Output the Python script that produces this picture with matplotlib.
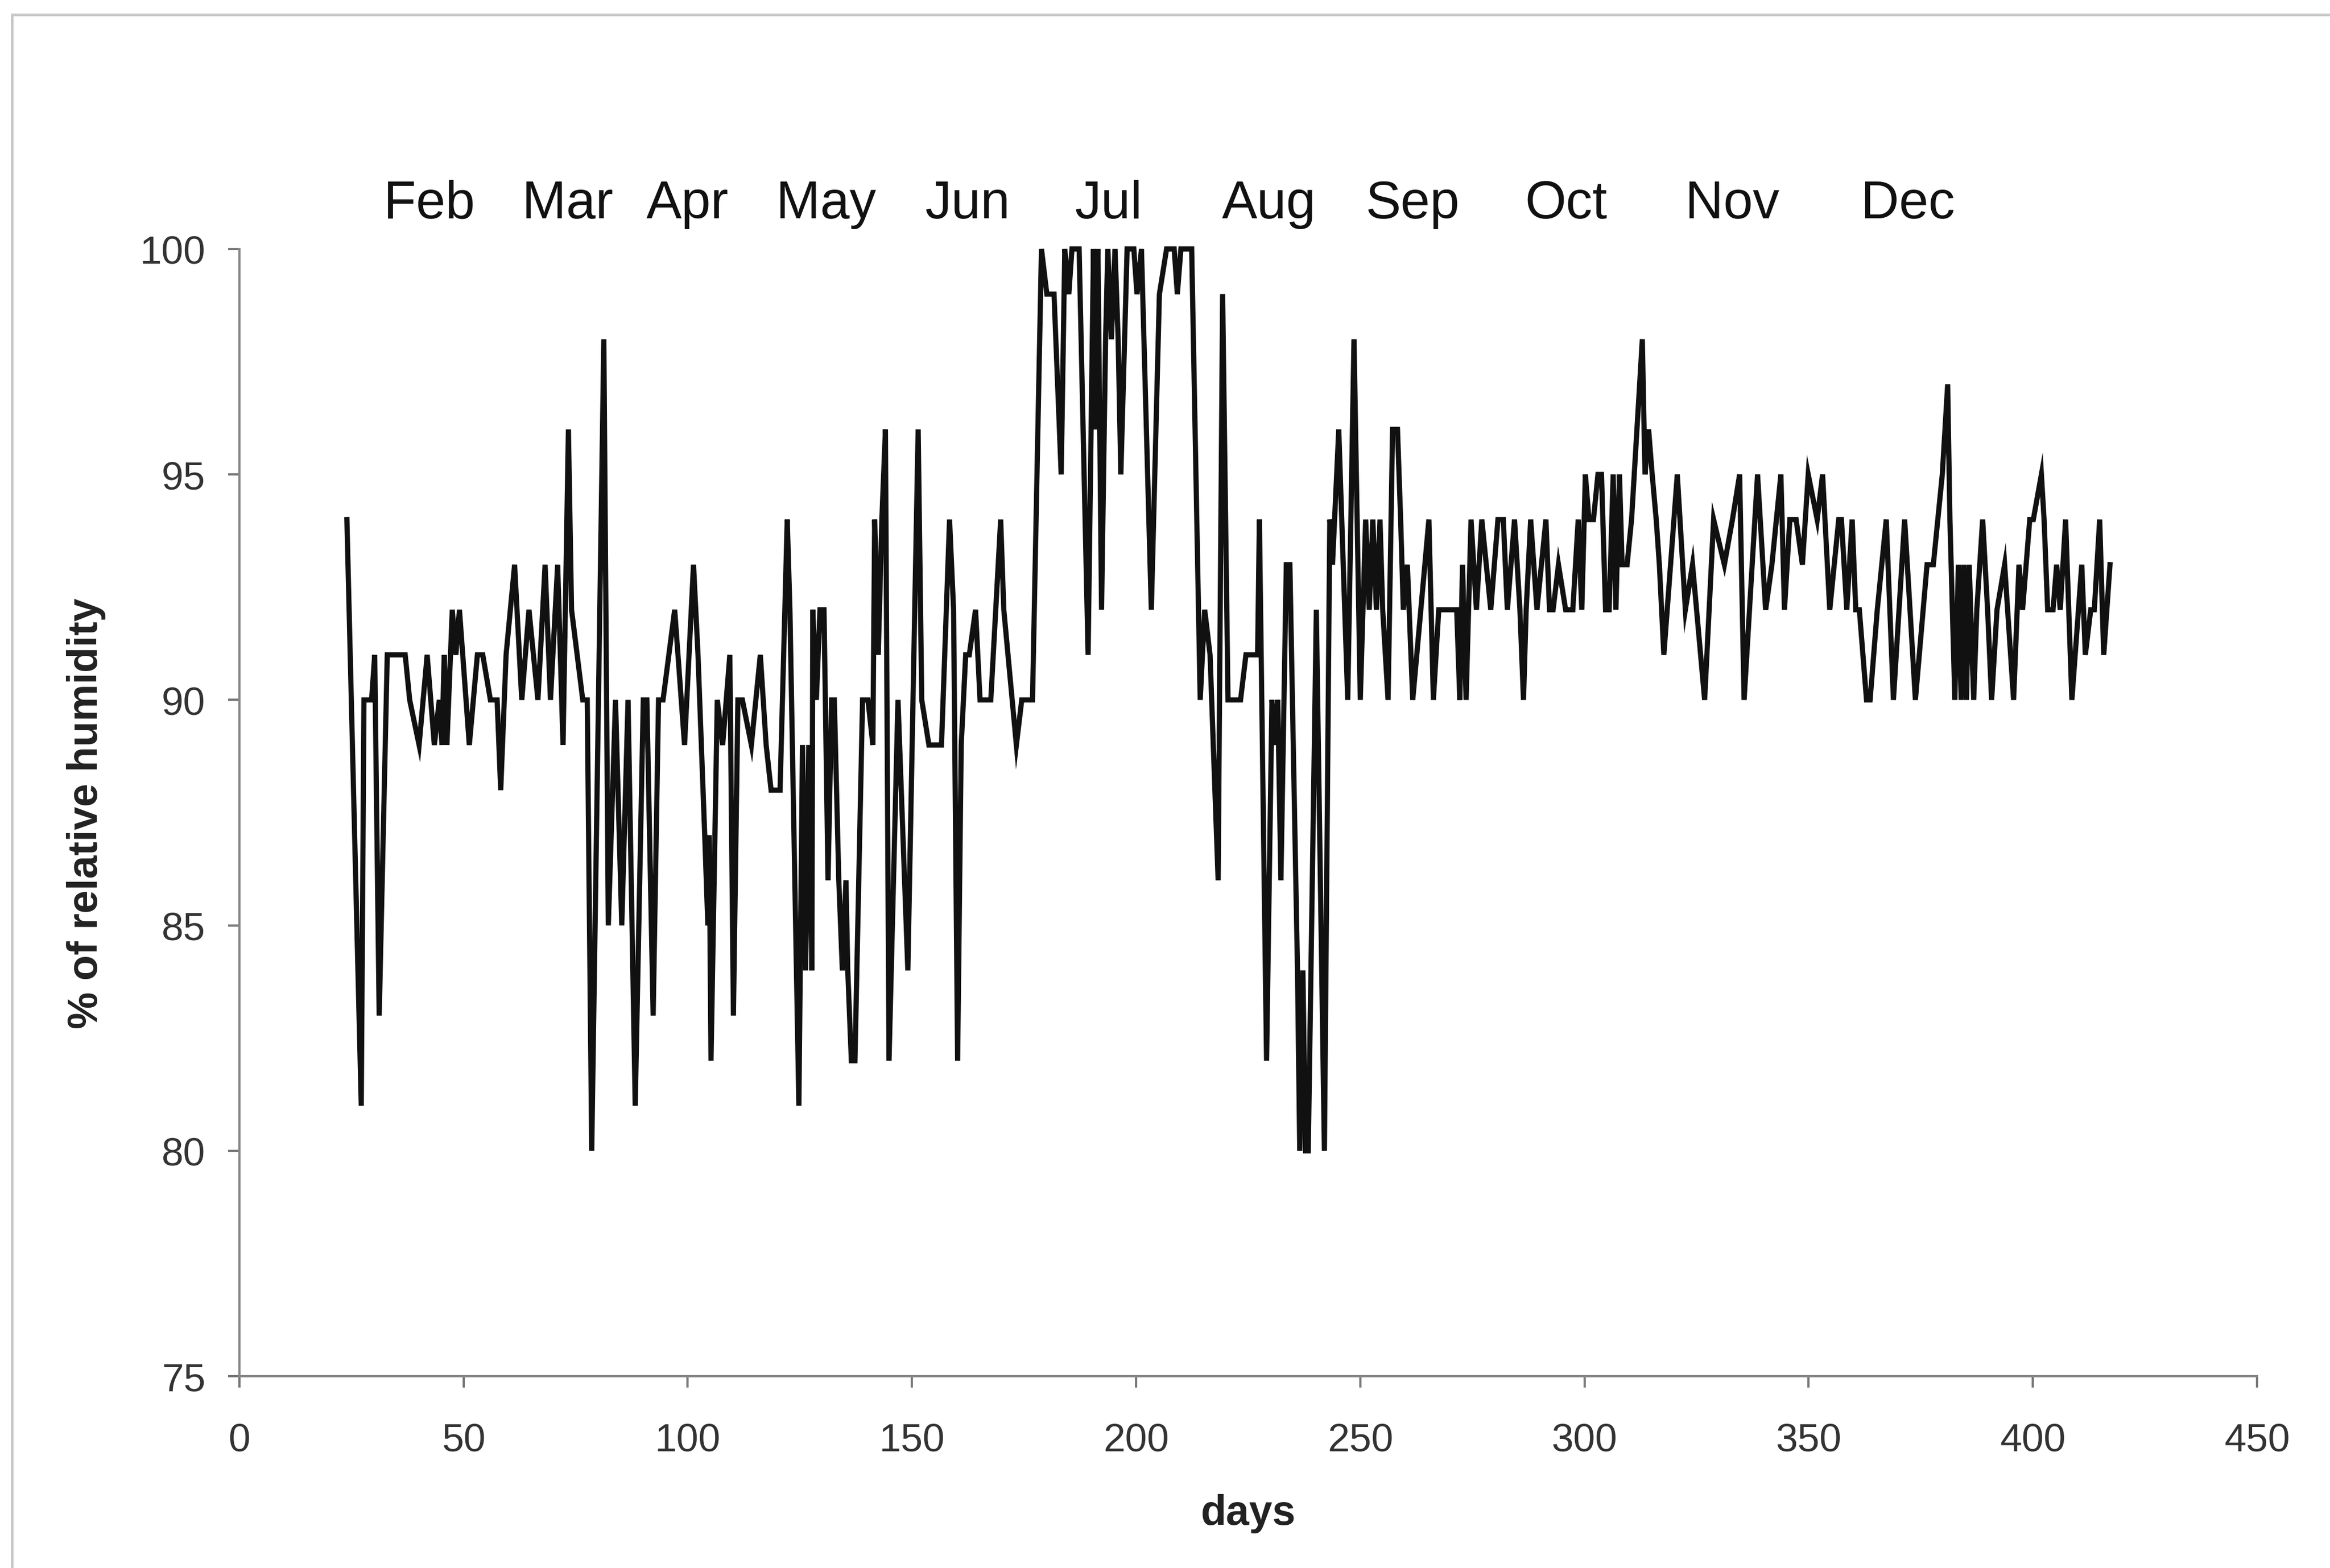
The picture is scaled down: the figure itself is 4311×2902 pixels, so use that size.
import matplotlib
matplotlib.use("Agg")
import matplotlib.pyplot as plt
from matplotlib.lines import Line2D

plt.rcParams['font.family'] = ['Liberation Sans', 'DejaVu Sans']

# ---- data ----
days = [
    24, 27.2, 27.8, 29.5, 30.2, 31.2, 33, 37, 38, 40.1, 41.9, 43.5, 44.6, 45.2, 45.7, 46.3,
    47.5, 48.3, 49.1, 51.3, 53.1, 54.3, 56, 57.5, 58.3,
    59.5, 61.4, 63, 64.6, 66.6, 68.2, 69.4, 71, 72.2, 73.4, 74.1, 76.6, 77.6, 78.6, 81.3,
    82.3, 83.9, 85.3, 86.7, 88.3, 90.1, 90.9, 92.3, 93.5, 94.5, 97.1, 99.3, 101.3, 102.3,
    103.8, 104.5, 104.8, 105.2, 106.6, 107.8, 109.4, 110.2, 111.2, 112.2, 114.2, 116.2,
    117.5, 118.6, 120.6, 122.2, 122.8, 124.8, 125.6, 126.3, 127, 127.7, 127.9, 128.7,
    129.5, 130.4, 131.3, 132.1, 132.7, 133.7, 134.5, 135.3, 135.7, 136.5, 137.3, 139,
    140.2, 141.3, 141.7, 142.5, 143.3, 144.1, 144.9, 146.9, 149.1, 151.4, 152.2, 153.8,
    156.6, 158.4, 159.3, 160.2, 161, 162, 162.8, 164.2, 165.2, 167.6, 169.8, 170.5, 173.3,
    174.5, 176.9, 178.9, 180.1, 181.7, 183.3, 184.1, 185, 185.7, 187.3, 189.3, 190.5,
    190.9, 191.5, 192.3, 193.2, 193.7, 194.5, 195.3, 196, 196.6, 198, 199.5, 200.2, 201.2,
    203.4, 205.2, 206.8, 208.5, 209.2, 210, 212.4, 214.3, 215.3, 216.5, 218.3, 219.3,
    220.5, 223.3, 224.5, 227.1, 227.5, 229.1, 230.3, 231, 231.6, 232.3, 233.5, 234.3, 236,
    236.5, 237.2, 237.8, 238.4, 240.2, 242, 243.2, 243.8, 245.2, 247.2, 248.6, 250, 251.2,
    252, 252.8, 253.6, 254.4, 255, 256.2, 257.2, 258.3, 259, 259.6, 260.5, 261.7, 263.5,
    265.3, 266.3, 267.5, 271.5, 272.2, 272.8, 273.6, 274.7, 275.9, 277.1, 279.1, 280.7,
    281.9, 282.8, 284.4, 285.6, 286.4, 287, 288, 289.4, 291.4, 292.2, 293, 294.2, 295.8,
    297.4, 298.6, 299.4, 300.2, 301, 302, 303, 303.8, 304.7, 305.5, 306.4, 307, 307.8,
    308.4, 309.5, 310.5, 312.9, 313.5, 314.3, 315.1, 316, 316.7, 317.7, 320.7, 322.5,
    324.1, 326.8, 328.8, 331.2, 333, 334.6, 335.6, 338.6, 340.4, 341.8, 343.8, 344.6,
    345.8, 347.2, 348.6, 349.9, 351.9, 353.1, 354.7, 356.7, 357.3, 358.5, 359.7, 360.5,
    361.3, 362.9, 363.7, 365.3, 367.3, 368.9, 371.4, 373.8, 376.4, 377.8, 379.8, 381,
    381.5, 382.6, 383.4, 384, 384.6, 385.2, 385.8, 386.8, 387.5, 388.8, 389.9, 390.8, 392,
    393.7, 395.7, 396.9, 397.7, 399.3, 400.1, 401.9, 402.5, 403.3, 404.5, 405.3, 406.1,
    407.3, 408.7, 410.9, 411.7, 412.9, 413.7, 414.9, 415.8, 417.2,
]
humidity = [
    94, 81, 90, 90, 91, 83, 91, 91, 90, 89, 91, 89, 90, 89, 91, 89,
    92, 91, 92, 89, 91, 91, 90, 90, 88,
    91, 93, 90, 92, 90, 93, 90, 93, 89, 96, 92, 90, 90, 80, 98,
    85, 90, 85, 90, 81, 90, 90, 83, 90, 90, 92, 89, 93, 91,
    87, 85, 87, 82, 90, 89, 91, 83, 90, 90, 89, 91,
    89, 88, 88, 94, 92, 81, 89, 84, 89, 84, 92, 90,
    92, 92, 86, 90, 90, 86, 84, 86, 84, 82, 82, 90,
    90, 89, 94, 91, 94, 96, 82, 90, 84, 96, 90, 89,
    89, 94, 92, 82, 89, 91, 91, 92, 90, 90, 94, 92, 89,
    90, 90, 100, 99, 99, 95, 100, 99, 100, 100, 91, 100,
    96, 100, 92, 98, 100, 98, 100, 98, 95, 100, 100, 99, 100,
    92, 99, 100, 100, 99, 100, 100, 90, 92, 91, 86, 99,
    90, 90, 91, 91, 94, 82, 90, 89, 90, 86, 93, 93, 84,
    80, 84, 80, 80, 92, 80, 94, 93, 96, 90, 98, 90, 94,
    92, 94, 92, 94, 92, 90, 96, 96, 94, 92, 93, 90, 92,
    94, 90, 92, 92, 90, 93, 90, 94, 92, 94, 92, 94,
    94, 92, 94, 92, 90, 92, 94, 92, 94, 92, 92, 93, 92,
    92, 94, 92, 95, 94, 94, 95, 95, 92, 92, 95, 92, 95,
    93, 93, 94, 98, 95, 96, 95, 94, 93, 91, 95, 92,
    93, 90, 94, 93, 94, 95, 90, 95, 92, 93, 95, 92,
    94, 94, 93, 95, 94, 95, 92, 94, 94, 92, 94, 92,
    92, 90, 90, 92, 94, 90, 94, 90, 93, 93, 95, 97,
    94, 90, 93, 90, 93, 90, 93, 90, 92, 94, 92, 90, 92,
    93, 90, 93, 92, 94, 94, 95, 94, 92, 92, 93, 92,
    94, 90, 93, 91, 92, 92, 94, 91, 93,
]

month_labels = ["Feb", "Mar", "Apr", "May", "Jun", "Jul", "Aug", "Sep", "Oct", "Nov", "Dec"]
month_pos = [42.4, 73.2, 100, 130.9, 162.4, 193.8, 229.6, 261.7, 295.9, 333, 372.1]

x_ticks = list(range(0, 451, 50))
y_ticks = [75, 80, 85, 90, 95, 100]

# ---- figure ----
W, H = 4311, 2903
DPI = 300
fig = plt.figure(figsize=(W / DPI, H / DPI), dpi=DPI)
fig.patch.set_facecolor("white")

ax = fig.add_axes([0.1027, 0.1222, 0.8660, 0.7187])
ax.plot(days, humidity, color="#111111", lw=2.3, solid_joinstyle="miter", clip_on=False)

ax.set_xlim(0, 450)
ax.set_ylim(75, 100)
ax.set_xticks(x_ticks)
ax.set_yticks(y_ticks)
ax.tick_params(axis="both", labelsize=17.5, labelcolor="#333333", color="#777777",
               length=5, width=1.0, direction="out")
ax.tick_params(axis="x", pad=15.5)
ax.tick_params(axis="y", pad=10)

for s in ["top", "right"]:
    ax.spines[s].set_visible(False)
for s in ["left", "bottom"]:
    ax.spines[s].set_color("#888888")
    ax.spines[s].set_linewidth(1.0)

ax.set_xlabel("days", fontsize=18.5, fontweight="bold", color="#222222")
ax.xaxis.set_label_coords(0.5, -0.104)
fig.text(0.037, 0.4815, "% of relative humidity", rotation=90, ha="center", va="center",
         fontsize=18.5, fontweight="bold", color="#222222")

for lab, pos in zip(month_labels, month_pos):
    ax.text(pos, 1.040, lab, transform=ax.get_xaxis_transform(), ha="center",
            va="center", fontsize=23.5, color="#111111")

# faint frame of the original figure (top and left edges)
fig.add_artist(Line2D([0.005, 1.0], [0.9905, 0.9905], transform=fig.transFigure,
                      color="#c8c8c8", lw=1.2))
fig.add_artist(Line2D([0.005, 0.005], [0.0, 0.9905], transform=fig.transFigure,
                      color="#c8c8c8", lw=1.2))

fig.savefig("out.png", dpi=DPI, facecolor="white")
